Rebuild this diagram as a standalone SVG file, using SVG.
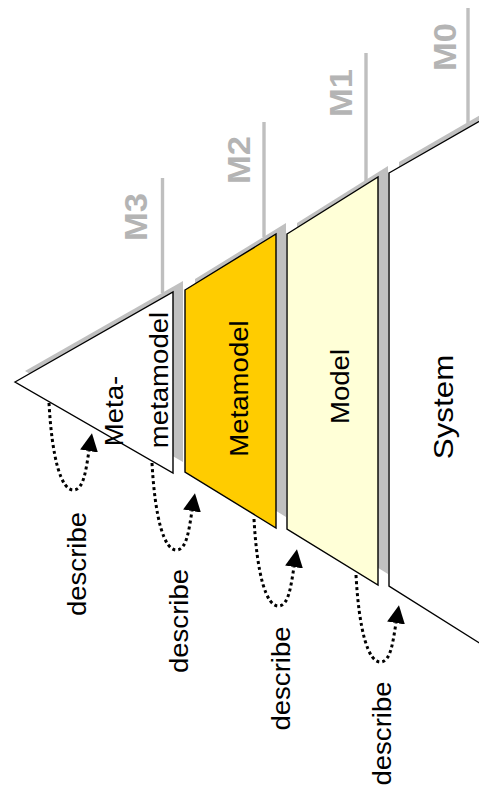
<svg xmlns="http://www.w3.org/2000/svg" width="479" height="798" viewBox="0 0 479 798">
<defs>
<style>
.sh{fill:#C0C0C0;stroke:none}
.ly{stroke:#000;stroke-width:1.4;stroke-linejoin:miter}
.ml{stroke:#BFBFBF;stroke-width:3.4;fill:none}
.mt{font-family:"Liberation Sans",Arial,sans-serif;font-weight:bold;font-size:32px;fill:#B4B4B4;text-anchor:middle}
.lt{font-family:"Liberation Sans",Arial,sans-serif;font-size:26px;fill:#000;text-anchor:middle}
.dc{fill:none;stroke:#000;stroke-width:3;stroke-dasharray:3 3}
</style>
<marker id="ah" markerUnits="userSpaceOnUse" markerWidth="18" markerHeight="18" viewBox="0 0 18 18" refX="0" refY="9" orient="auto">
<path d="M0,0 L18,9 L0,18 z" fill="#000"/>
</marker>
</defs>
<rect width="479" height="798" fill="#fff"/>
<g id="levels">
<line class="ml" x1="162.5" y1="178" x2="162.5" y2="293"/>
<line class="ml" x1="264" y1="122" x2="264" y2="237"/>
<line class="ml" x1="366" y1="53" x2="366" y2="181"/>
<line class="ml" x1="468" y1="8" x2="468" y2="123"/>
<text class="mt" transform="translate(147,217) rotate(-90) scale(1.08,1)">M3</text>
<text class="mt" transform="translate(250,160) rotate(-90) scale(1.08,1)">M2</text>
<text class="mt" transform="translate(352,93) rotate(-90) scale(1.08,1)">M1</text>
<text class="mt" transform="translate(456,47) rotate(-90) scale(1.08,1)">M0</text>
</g>
<g id="shadows">
<polygon class="sh" points="25,371 183,281 183,462"/>
<polygon class="sh" points="195,279 286,223 286,517 195,461"/>
<polygon class="sh" points="297,223 388,166 388,574 297,518"/>
<polygon class="sh" points="399,162 510,98 510,645 399,575"/>
</g>
<g id="metametamodel">
<polygon class="ly" fill="#FFFFFF" points="15,382 173,292 173,473"/>
<text class="lt" transform="translate(123,411) rotate(-90) scale(1.06,1)">Meta-</text>
<text class="lt" transform="translate(168,380) rotate(-90) scale(1.06,1)">metamodel</text>
</g>
<g id="metamodel">
<polygon class="ly" fill="#FFCC00" points="185,290 276,234 276,528 185,472"/>
<text class="lt" transform="translate(247.5,388.5) rotate(-90) scale(1.06,1)">Metamodel</text>
</g>
<g id="model">
<polygon class="ly" fill="#FFFFD7" points="287,234 378,177 378,585 287,529"/>
<text class="lt" transform="translate(349,386.5) rotate(-90) scale(1.06,1)">Model</text>
</g>
<g id="system">
<polygon class="ly" fill="#FFFFFF" points="389,173 500,109.4 500,656 389,586"/>
<text class="lt" style="font-size:28px" transform="translate(453,407) rotate(-90) scale(1.12,1)">System</text>
</g>
<g id="connectors">
<path class="dc" marker-end="url(#ah)" d="M49,403 C52,458 61,491 74,490 C84,489 86,469 89,451"/>
<path class="dc" marker-end="url(#ah)" d="M152,463 C155,518 164,551 177,550 C187,549 189,529 192,511"/>
<path class="dc" marker-end="url(#ah)" d="M254,519 C257,574 266,607 279,606 C289,605 291,585 294,567"/>
<path class="dc" marker-end="url(#ah)" d="M356,575 C359,630 368,663 381,662 C391,661 393,641 396,623"/>
<text class="lt" transform="translate(86,564) rotate(-90) scale(1.06,1)">describe</text>
<text class="lt" transform="translate(188,621) rotate(-90) scale(1.06,1)">describe</text>
<text class="lt" transform="translate(290,678.5) rotate(-90) scale(1.06,1)">describe</text>
<text class="lt" transform="translate(391,733.5) rotate(-90) scale(1.06,1)">describe</text>
</g>
</svg>
